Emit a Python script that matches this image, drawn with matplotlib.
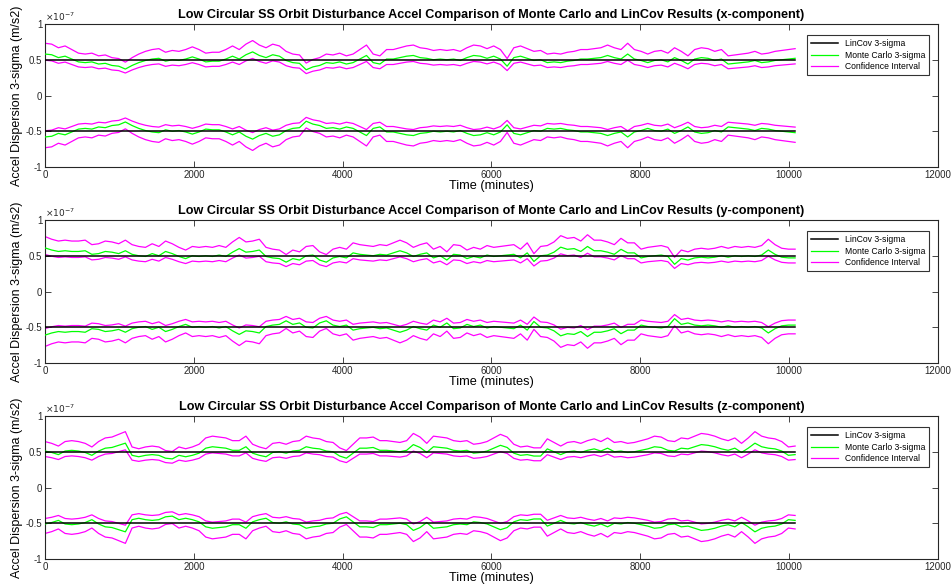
import numpy as np
import matplotlib
matplotlib.use("Agg")
import matplotlib.pyplot as plt

plt.rcParams['font.family'] = ['Liberation Sans', 'DejaVu Sans']

# ---- data (values in units of 1e-7 m/s^2) ----
t_end = 10080  # minutes
components = ["x", "y", "z"]

mc_x = [0.58,0.57,0.53,0.55,0.51,0.47,0.46,0.47,0.44,0.45, 0.42,0.41,0.37,0.42,0.46,0.49,0.51,0.52,0.48,0.50,
        0.49,0.51,0.54,0.51,0.47,0.48,0.48,0.51,0.55,0.51, 0.57,0.61,0.56,0.53,0.57,0.55,0.49,0.46,0.45,
        0.36,0.40,0.42,0.46,0.45,0.47,0.44,0.46,0.51,0.56, 0.46,0.44,0.51,0.51,0.53,0.55,0.56,0.53,0.52,0.50,
        0.51,0.50,0.51,0.49,0.53,0.56,0.55,0.52,0.55,0.51, 0.41,0.53,0.55,0.52,0.49,
        0.50,0.46,0.47,0.46,0.48,0.49,0.51,0.51,0.52,0.53, 0.56,0.53,0.51,0.58,0.51,0.49,0.46,0.49,0.50,0.47,
        0.53,0.49,0.44,0.51,0.53,0.52,0.49,0.51,0.44,0.45, 0.46,0.47,0.49,0.46,0.47,0.49,0.50,0.51,0.52]

mc_y = [0.61,0.58,0.56,0.57,0.56,0.56,0.57,0.52,0.53,0.56, 0.55,0.53,0.57,0.52,0.50,0.49,0.53,0.50,0.56,0.53,
        0.49,0.46,0.50,0.49,0.50,0.49,0.51,0.49,0.55,0.60, 0.55,0.56,0.58,0.49,0.47,0.46,0.41,0.46,0.44,
        0.50,0.51,0.44,0.41,0.47,0.49,0.47,0.54,0.52,0.51, 0.50,0.52,0.51,0.54,0.57,0.54,0.49,0.52,0.54,0.47,
        0.50,0.44,0.52,0.51,0.46,0.49,0.47,0.51,0.49,0.50, 0.51,0.52,0.47,0.54,0.42,
        0.50,0.51,0.55,0.62,0.59,0.60,0.56,0.63,0.57,0.57, 0.55,0.52,0.59,0.54,0.54,0.47,0.49,0.50,0.51,0.49,
        0.38,0.46,0.44,0.47,0.48,0.47,0.48,0.50,0.48,0.50, 0.49,0.50,0.49,0.51,0.58,0.52,0.48,0.47,0.47]

mc_z = [0.51,0.49,0.46,0.51,0.52,0.51,0.49,0.45,0.51,0.55, 0.56,0.59,0.62,0.45,0.43,0.45,0.46,0.45,0.41,0.40,
        0.45,0.43,0.45,0.48,0.55,0.57,0.56,0.55,0.52,0.52, 0.57,0.48,0.45,0.43,0.49,0.50,0.48,0.51,0.52,
        0.57,0.55,0.54,0.51,0.50,0.44,0.41,0.48,0.55,0.55, 0.56,0.52,0.52,0.51,0.50,0.52,0.60,0.56,0.49,0.57,
        0.56,0.55,0.52,0.51,0.52,0.48,0.49,0.51,0.55,0.59, 0.56,0.48,0.45,0.46,0.44,
        0.44,0.54,0.50,0.46,0.50,0.51,0.49,0.52,0.54,0.51, 0.55,0.50,0.51,0.49,0.50,0.52,0.54,0.57,0.56,0.52,
        0.51,0.55,0.54,0.57,0.60,0.59,0.57,0.54,0.52,0.55, 0.49,0.55,0.62,0.57,0.55,0.54,0.51,0.45,0.46]

lincov_level = [0.5, 0.5, 0.5]
ci_upper_scale = 1.26
ci_lower_scale = 0.85

x_ticks = [0, 2000, 4000, 6000, 8000, 10000, 12000]
y_ticks = [-1, -0.5, 0, 0.5, 1]
y_ticklabels = ["-1", "-0.5", "0", "0.5", "1"]

mc_all = [mc_x, mc_y, mc_z]

# ---- figure ----
W, H = 953, 588
fig = plt.figure(figsize=(W / 100, H / 100), dpi=100)
tick_col = (0.15, 0.15, 0.15)

tops = [24, 220, 416]
ax_h = 143
left, right = 45, 938

for i, comp in enumerate(components):
    ax = fig.add_axes([left / W, 1 - (tops[i] + ax_h) / H, (right - left) / W, ax_h / H])
    mc = np.array(mc_all[i])
    t = np.linspace(0, t_end, len(mc))
    lc = np.full(2, lincov_level[i])
    tl = np.array([0, t_end])

    l1, = ax.plot(tl, lc, color='black', lw=1.1, zorder=4)
    ax.plot(tl, -lc, color='black', lw=1.1, zorder=4)
    l2, = ax.plot(t, mc, color=(0, 1, 0), lw=0.9, zorder=3)
    ax.plot(t, -mc, color=(0, 1, 0), lw=0.9, zorder=3)
    l3, = ax.plot(t, mc * ci_upper_scale, color=(1, 0, 1), lw=0.9, zorder=2)
    ax.plot(t, mc * ci_lower_scale, color=(1, 0, 1), lw=0.9, zorder=2)
    ax.plot(t, -mc * ci_upper_scale, color=(1, 0, 1), lw=0.9, zorder=2)
    ax.plot(t, -mc * ci_lower_scale, color=(1, 0, 1), lw=0.9, zorder=2)

    ax.set_xlim(0, 12000)
    ax.set_ylim(-1, 1)
    ax.set_xticks(x_ticks)
    ax.set_xticklabels([str(v) for v in x_ticks])
    ax.set_yticks(y_ticks)
    ax.set_yticklabels(y_ticklabels)
    ax.tick_params(direction='in', length=4, width=0.6, top=True, right=True,
                   labelsize=7, colors=tick_col, pad=2)
    for s in ax.spines.values():
        s.set_color(tick_col)
        s.set_linewidth(0.8)

    ax.set_title("Low Circular SS Orbit Disturbance Accel Comparison of Monte Carlo and LinCov Results (%s-component)" % comp,
                 fontsize=9.1, fontweight='bold', pad=4)
    ax.set_xlabel("Time (minutes)", fontsize=9.2, labelpad=0)
    ax.set_ylabel("Accel Dispersion 3-sigma (m/s2)", fontsize=9, labelpad=2)
    ax.text(0.0, 1.01, r"$\times10^{-7}$", transform=ax.transAxes, fontsize=6.5,
            color=tick_col, ha='left', va='bottom')

    leg = ax.legend([l1, l2, l3], ["LinCov 3-sigma", "Monte Carlo 3-sigma", "Confidence Interval"],
                    loc='upper right', fontsize=6.2, frameon=True, fancybox=False,
                    handlelength=3.2, borderpad=0.45, labelspacing=0.3,
                    bbox_to_anchor=(0.995, 0.95))
    leg.get_frame().set_edgecolor('black')
    leg.get_frame().set_linewidth(0.8)

fig.savefig("out.png", dpi=100)
